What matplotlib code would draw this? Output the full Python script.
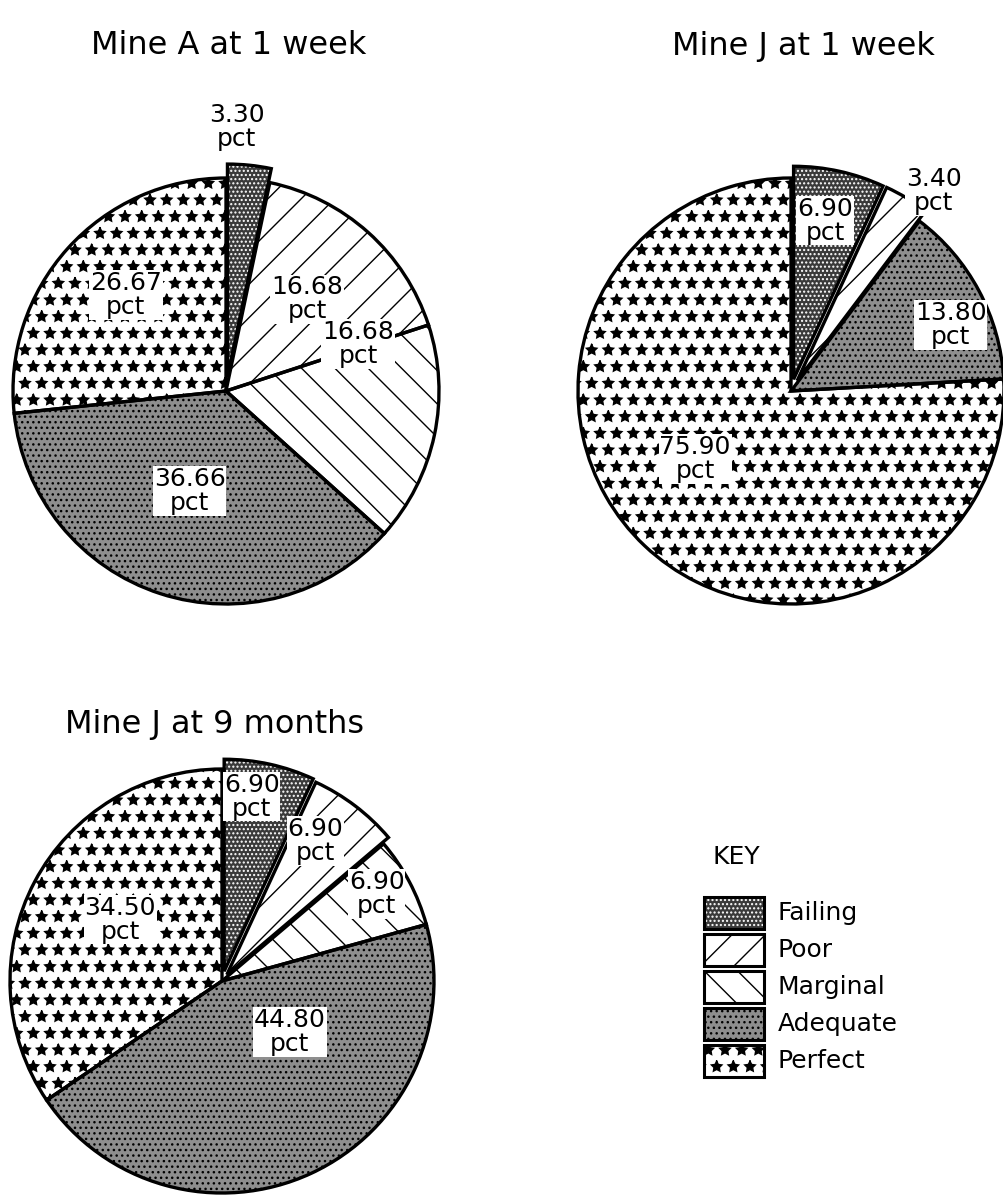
import matplotlib.pyplot as plt
from matplotlib.patches import Rectangle

# data
categories = ['Failing', 'Poor', 'Marginal', 'Adequate', 'Perfect']
mine_a_1wk = [3.30, 16.68, 16.68, 36.66, 26.67]
mine_j_1wk = [6.90, 3.40, 0.0, 13.80, 75.90]
mine_j_9mo = [6.90, 6.90, 6.90, 44.80, 34.50]
titles = ['Mine A at 1 week', 'Mine J at 1 week', 'Mine J at 9 months']

# fill styles: face, hatch colour, hatch
fills = {
    'Failing': ('#3a3a3a', 'white', '....'),
    'Poor': ('white', 'black', '/'),
    'Marginal': ('white', 'black', '\\'),
    'Adequate': ('#8e8e8e', 'black', '...'),
    'Perfect': ('white', 'black', '*'),
}

W, H = 1004, 1199
fig = plt.figure(figsize=(W / 100, H / 100), dpi=100)
ax = fig.add_axes([0, 0, 1, 1])

# layout (pixel positions, y from top)
pies = [
    dict(vals=mine_a_1wk, c=(226, 391), r=213, title=(229, 45),
         expl={'Failing': 14},
         lab=[(0.05, 1.24), (0.38, 0.43), (0.62, 0.22), (-0.17, -0.47), (-0.47, 0.45)]),
    dict(vals=mine_j_1wk, c=(791, 391), r=213, title=(803, 47),
         expl={'Failing': 12, 'Poor': 12},
         lab=[(0.16, 0.80), (0.67, 0.94), None, (0.75, 0.31), (-0.45, -0.32)]),
    dict(vals=mine_j_9mo, c=(222, 981), r=212, title=(215, 725),
         expl={'Failing': 10, 'Poor': 8},
         lab=[(0.14, 0.87), (0.44, 0.66), (0.73, 0.41), (0.32, -0.24), (-0.48, 0.29)]),
]

for p, title in zip(pies, titles):
    cats = [c for c, v in zip(categories, p['vals']) if v > 0]
    vals = [v for v in p['vals'] if v > 0]
    labs = [l for l, v in zip(p['lab'], p['vals']) if v > 0]
    cx, cy = p['c'][0], H - p['c'][1]
    ex = [p['expl'].get(c, 0) for c in cats]

    wedges, _ = ax.pie(vals, explode=ex, center=(cx, cy), radius=p['r'],
                       startangle=90, counterclock=False, frame=True)
    for w, c in zip(wedges, cats):
        fc, hc, h = fills[c]
        w.set_facecolor(fc)
        w.set_edgecolor(hc)
        w.set_linewidth(0)
        w.set_hatch(h)
    ax.pie(vals, explode=ex, center=(cx, cy), radius=p['r'],
           startangle=90, counterclock=False, frame=True,
           wedgeprops=dict(fill=False, edgecolor='black', linewidth=2.4))

    for v, (dx, dy) in zip(vals, labs):
        ax.text(cx + dx * p['r'], cy + dy * p['r'], f'{v:.2f}\npct',
                ha='center', va='center', fontsize=18, linespacing=1.0,
                bbox=dict(fc='white', ec='none', pad=0.5))

    ax.text(p['title'][0], H - p['title'][1], title, ha='center', va='center',
            fontsize=23)

ax.set_xlim(0, W)
ax.set_ylim(0, H)
ax.set_aspect('equal')
ax.axis('off')

# key
ax.text(736, H - 857, 'KEY', ha='center', va='center', fontsize=18)
row_y = [913, 950, 987, 1024, 1061]
for c, y in zip(categories, row_y):
    fc, hc, h = fills[c]
    ax.add_patch(Rectangle((704, H - y - 16), 60, 32, facecolor=fc, edgecolor=hc,
                           linewidth=0, hatch=h))
    ax.add_patch(Rectangle((704, H - y - 16), 60, 32, fill=False,
                           edgecolor='black', linewidth=2.2))
    ax.text(778, H - y, c, ha='left', va='center', fontsize=18)

fig.savefig('out.png', dpi=100, facecolor='white')
